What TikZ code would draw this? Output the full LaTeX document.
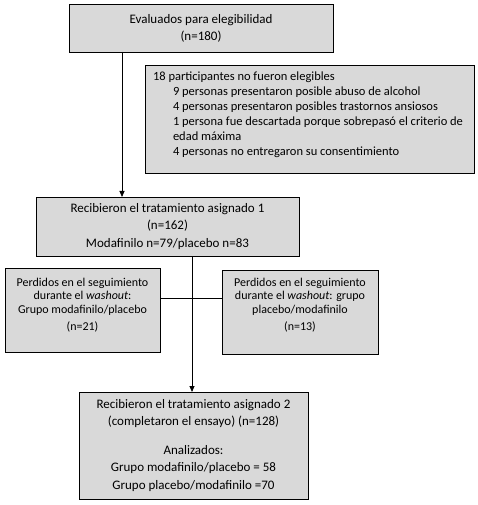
\documentclass[tikz,border=0pt]{standalone}
\usepackage{fontspec}
\setmainfont{Carlito}
\usetikzlibrary{arrows.meta}
\definecolor{boxgray}{HTML}{D9D9D9}
\begin{document}
\begin{tikzpicture}[x=1bp,y=-1bp,
  box/.style={draw=black, fill=boxgray, line width=0.8bp, inner sep=0pt, outer sep=0pt},
  arr/.style={line width=0.8bp, -{Triangle[length=6bp,width=5bp]}},
  conn/.style={line width=0.8bp}]
\useasboundingbox (0,0) rectangle (478,505);

\node[box] (b1) at (201,28) {\begin{minipage}[c][48bp][c]{264bp}\centering\fontsize{13bp}{17bp}\selectfont
Evaluados para elegibilidad\\(n=180)\end{minipage}};

\node[box] (b2) at (309.5,119) {\begin{minipage}[c][108bp][t]{329bp}\raggedright\fontsize{12.5bp}{15bp}\selectfont
\vspace*{6.5bp}\leftskip=8bp
18 participantes no fueron elegibles\\
\hspace*{20bp}9 personas presentaron posible abuso de alcohol\\
\hspace*{20bp}4 personas presentaron posibles trastornos ansiosos\\
\hspace*{20bp}1 persona fue descartada porque sobrepasó el criterio de\\
\hspace*{20bp}edad máxima\\
\hspace*{20bp}4 personas no entregaron su consentimiento\end{minipage}};

\node[box] (b3) at (167.5,226.5) {\begin{minipage}[c][59bp][c]{263bp}\centering\fontsize{13bp}{17.5bp}\selectfont
Recibieron el tratamiento asignado 1\\(n=162)\\Modafinilo n=79/placebo n=83\end{minipage}};

\node[box] (b4l) at (82.5,310) {\begin{minipage}[c][84bp][t]{155bp}\centering\fontsize{12bp}{13.5bp}\selectfont
\vspace*{10bp}Perdidos en el seguimiento\\durante el \textit{washout}:\\Grupo modafinilo/placebo\\[4bp](n=21)\end{minipage}};

\node[box] (b4r) at (300,312) {\begin{minipage}[c][84bp][t]{156bp}\centering\fontsize{12bp}{13.5bp}\selectfont
\vspace*{8bp}Perdidos en el seguimiento\\durante el \textit{washout}: grupo\\placebo/modafinilo\\[4bp](n=13)\end{minipage}};

\node[box] (b5) at (193.5,445.5) {\begin{minipage}[c][107bp][c]{229bp}\centering\fontsize{13bp}{17.5bp}\selectfont
Recibieron el tratamiento asignado 2\\(completaron el ensayo) (n=128)\\[11bp]
Analizados:\\Grupo modafinilo/placebo = 58\\Grupo placebo/modafinilo =70\end{minipage}};

\coordinate (c1) at (122,0);
\coordinate (c2) at (192,0);
\coordinate (c3) at (0,298);
\draw[arr] (c1 |- b1.south) -- (c1 |- b3.north);
\draw[arr] (c2 |- b3.south) -- (c2 |- b5.north);
\draw[conn] (c3 -| b4l.east) -- (c3 -| b4r.west);
\end{tikzpicture}
\end{document}
